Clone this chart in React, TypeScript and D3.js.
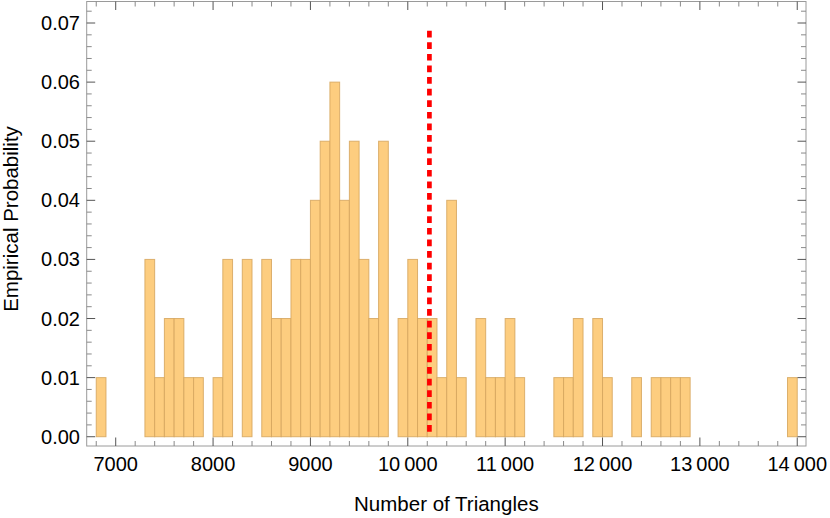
import React from "react";
import * as d3 from "d3";

const binStarts = [6800, 7300, 7400, 7500, 7600, 7700, 7800, 8000, 8100, 8300, 8500, 8600, 8700, 8800, 8900, 9000, 9100, 9200, 9300, 9400, 9500, 9600, 9700, 9900, 10000, 10100, 10200, 10300, 10400, 10500, 10700, 10800, 10900, 11000, 11100, 11500, 11600, 11700, 11900, 12000, 12300, 12500, 12600, 12700, 12800, 13900];
const probabilities = [0.01, 0.03, 0.01, 0.02, 0.02, 0.01, 0.01, 0.01, 0.03, 0.03, 0.03, 0.02, 0.02, 0.03, 0.03, 0.04, 0.05, 0.06, 0.04, 0.05, 0.03, 0.02, 0.05, 0.02, 0.03, 0.02, 0.02, 0.01, 0.04, 0.01, 0.02, 0.01, 0.01, 0.02, 0.01, 0.01, 0.01, 0.02, 0.02, 0.01, 0.01, 0.01, 0.01, 0.01, 0.01, 0.01];
const binWidth = 100;
const observedValue = 10222;
const observedLineTop = 0.0687;

const xTickValues = [7000, 8000, 9000, 10000, 11000, 12000, 13000, 14000];
const xTickLabels = ["7000", "8000", "9000", "10\u2009000", "11\u2009000", "12\u2009000", "13\u2009000", "14\u2009000"];
const yTickValues = [0, 0.01, 0.02, 0.03, 0.04, 0.05, 0.06, 0.07];
const yTickLabels = ["0.00", "0.01", "0.02", "0.03", "0.04", "0.05", "0.06", "0.07"];

const W = 830;
const H = 518;
const left = 86.7;
const right = 806;
const top = 1.5;
const bottom = 446;

const FONT = "'Liberation Sans', Arial, sans-serif";

export default function App() {
  const x = d3.scaleLinear().domain([6702, 14090]).range([left, right]);
  const y = d3.scaleLinear().domain([-0.00157, 0.07364]).range([bottom, top]);

  const xMinor = d3.range(6800, 14100, 200).filter((v) => v % 1000 !== 0);
  const yMinor = d3.range(0, 0.0735, 0.002).filter((v) => Math.abs(v * 100 - Math.round(v * 100)) > 1e-6);

  const tickColor = "#555";
  const minorColor = "#8a8a8a";
  const frameColor = "#9a9a9a";

  return (
    <svg width={W} height={H} style={{ position: "absolute", left: 0, top: 0, background: "#fff" }} fontFamily={FONT}>
      {binStarts.map((b, i) => (
        <rect
          key={b}
          x={x(b)}
          y={y(probabilities[i])}
          width={x(b + binWidth) - x(b)}
          height={y(0) - y(probabilities[i])}
          fill="#fdcd7f"
          stroke="#d6a65e"
          strokeOpacity={0.85}
          strokeWidth={1}
        />
      ))}
      <line
        x1={x(observedValue)}
        x2={x(observedValue)}
        y1={y(observedLineTop)}
        y2={y(0)}
        stroke="#ff0000"
        strokeWidth={4.7}
        strokeDasharray="6.7,4.9"
      />
      <rect x={left} y={top} width={right - left} height={bottom - top} fill="none" stroke={frameColor} strokeWidth={1} />
      {xTickValues.map((v) => (
        <g key={"xt" + v}>
          <line x1={x(v)} x2={x(v)} y1={bottom} y2={bottom - 8.5} stroke={tickColor} strokeWidth={1} />
          <line x1={x(v)} x2={x(v)} y1={top} y2={top + 8.5} stroke={tickColor} strokeWidth={1} />
        </g>
      ))}
      {xMinor.map((v) => (
        <g key={"xm" + v}>
          <line x1={x(v)} x2={x(v)} y1={bottom} y2={bottom - 5} stroke={minorColor} strokeWidth={1} />
          <line x1={x(v)} x2={x(v)} y1={top} y2={top + 5} stroke={minorColor} strokeWidth={1} />
        </g>
      ))}
      {yTickValues.map((v) => (
        <g key={"yt" + v}>
          <line x1={left} x2={left + 8.5} y1={y(v)} y2={y(v)} stroke={tickColor} strokeWidth={1} />
          <line x1={right} x2={right - 8.5} y1={y(v)} y2={y(v)} stroke={tickColor} strokeWidth={1} />
        </g>
      ))}
      {yMinor.map((v) => (
        <g key={"ym" + v}>
          <line x1={left} x2={left + 5} y1={y(v)} y2={y(v)} stroke={minorColor} strokeWidth={1} />
          <line x1={right} x2={right - 5} y1={y(v)} y2={y(v)} stroke={minorColor} strokeWidth={1} />
        </g>
      ))}
      {xTickValues.map((v, i) => (
        <text key={"xl" + v} x={x(v)} y={471} textAnchor="middle" fontSize={20} fill="#000">
          {xTickLabels[i]}
        </text>
      ))}
      {yTickValues.map((v, i) => (
        <text key={"yl" + v} x={80} y={y(v) + 7} textAnchor="end" fontSize={20} fill="#000">
          {yTickLabels[i]}
        </text>
      ))}
      <text x={(left + right) / 2} y={511} textAnchor="middle" fontSize={20.5} fill="#000">
        Number of Triangles
      </text>
      <text
        transform={`translate(${18},${219}) rotate(-90)`}
        textAnchor="middle"
        fontSize={20.5}
        fill="#000"
      >
        Empirical Probability
      </text>
    </svg>
  );
}
